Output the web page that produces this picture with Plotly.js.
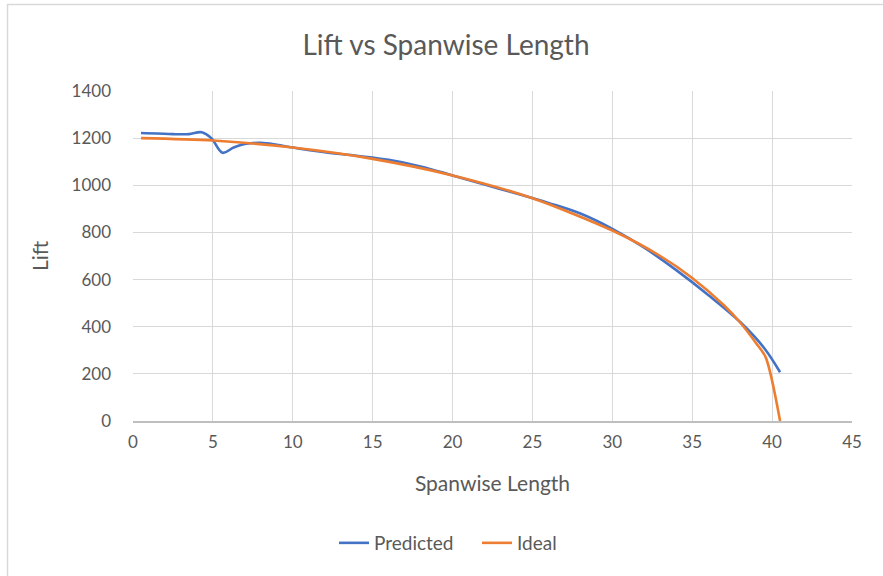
<!DOCTYPE html>
<html>
<head>
<meta charset="utf-8">
<script src="https://cdn.plot.ly/plotly-3.0.1.min.js"></script>
<style>
html,body{margin:0;padding:0;background:#fff;overflow:hidden;}
#chart{width:883px;height:576px;}
</style>
</head>
<body>
<div id="chart"></div>
<script>
const predX = [0.5, 1.5, 2.5, 3.5, 4.3, 4.9, 5.6, 6.3, 7, 8, 9, 10, 12, 14, 16, 18, 20, 22, 24, 26, 28, 30, 32, 34, 36, 38, 39.5, 40.5];
const predY = [1222, 1220, 1217, 1217, 1225, 1200, 1138, 1160, 1175, 1180, 1172, 1160, 1140, 1125, 1108, 1080, 1042, 1003, 965, 925, 880, 815, 735, 640, 535, 420, 310, 207];
const idealX = [0.5, 5, 10, 15, 20, 25, 30, 33, 35, 37, 38, 39, 39.6, 40.5];
const idealY = [1200, 1190, 1160, 1112, 1042, 945, 808, 700, 607, 490, 418, 330, 270, 0];
const xTicks = [0, 5, 10, 15, 20, 25, 30, 35, 40, 45];
const yTicks = [0, 200, 400, 600, 800, 1000, 1200, 1400];

const font = "Lato, 'Open Sans', sans-serif";
const traces = [
  {x: predX, y: predY, name: 'Predicted', type: 'scatter', mode: 'lines',
   line: {color: '#4472C4', width: 2.6, shape: 'spline', smoothing: 1}},
  {x: idealX, y: idealY, name: 'Ideal', type: 'scatter', mode: 'lines',
   line: {color: '#ED7D31', width: 2.6, shape: 'spline', smoothing: 0.8}}
];
const layout = {
  width: 883, height: 576,
  margin: {l: 133, r: 31, t: 91, b: 155},
  paper_bgcolor: '#fff', plot_bgcolor: '#fff',
  font: {family: font, color: '#595959', size: 17},
  title: {text: 'Lift vs Spanwise Length', font: {family: font, size: 28, color: '#595959'},
          x: (446-0)/883, xanchor: 'center', y: 1 - 45/576, yanchor: 'middle'},
  xaxis: {range: [0, 45], tickvals: xTicks, ticktext: xTicks.map(String),
          showgrid: true, gridcolor: '#d9d9d9', gridwidth: 1,
          showline: true, linecolor: '#bfbfbf', linewidth: 1.5, zeroline: false,
          ticks: '', ticklabelstandoff: 5, tickfont: {size: 17, color: '#595959'},
          title: {text: 'Spanwise Length', font: {size: 21, color: '#595959'}, standoff: 25}},
  yaxis: {range: [0, 1400], tickvals: yTicks, ticktext: yTicks.map(String),
          showgrid: true, gridcolor: '#d9d9d9', gridwidth: 1,
          showline: false, zeroline: false, ticks: '', ticklabelstandoff: 21,
          tickfont: {size: 17, color: '#595959'},
          title: {text: 'Lift', font: {size: 21, color: '#595959'}, standoff: 17}},
  showlegend: true,
  legend: {orientation: 'h', x: (334-133)/719, xanchor: 'left', y: (421-543)/330, yanchor: 'middle',
           font: {size: 19, color: '#595959'}, tracegroupgap: 0, entrywidth: 98, entrywidthmode: 'pixels'},
  shapes: [{type: 'rect', xref: 'paper', yref: 'paper',
            x0: (7.5-133)/719, x1: (960-133)/719, y0: (421-660)/330, y1: (421-4.5)/330,
            line: {color: '#d9d9d9', width: 1.5}, fillcolor: 'rgba(0,0,0,0)', layer: 'below'}]
};
Plotly.newPlot('chart', traces, layout, {displayModeBar: false, staticPlot: true});
</script>
</body>
</html>
